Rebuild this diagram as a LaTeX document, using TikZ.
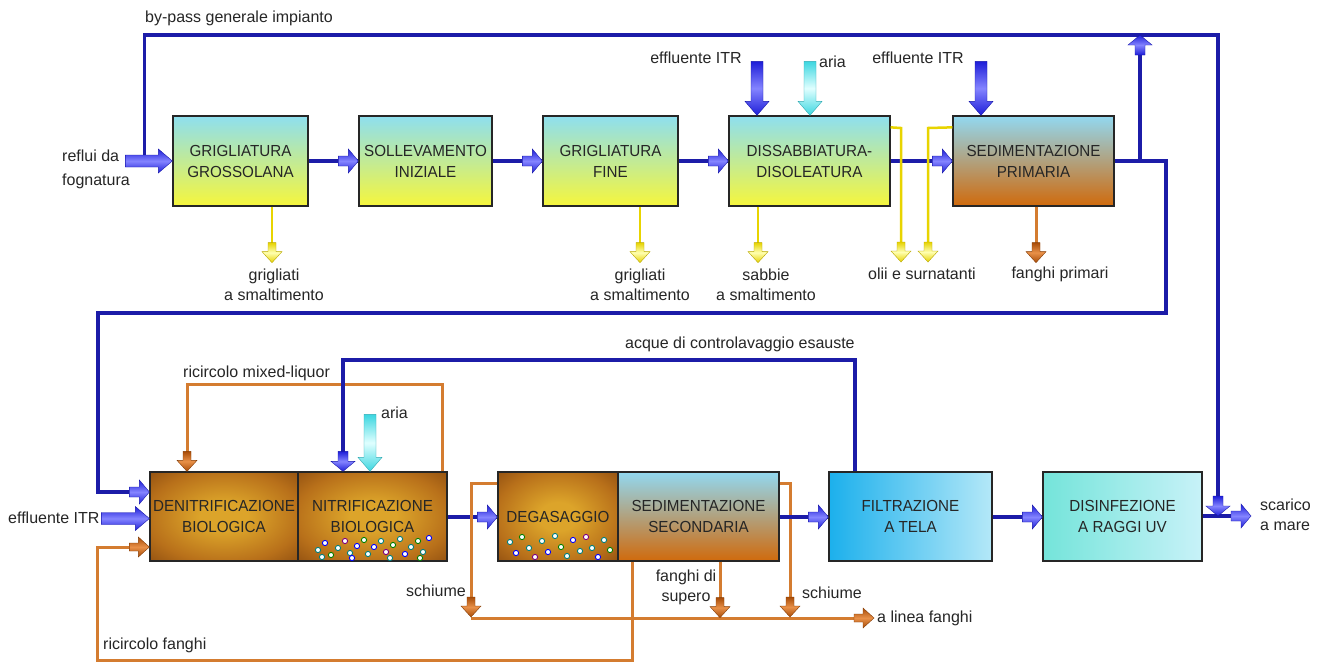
\documentclass[tikz,border=0pt]{standalone}
\usepackage{fontspec}
\setmainfont{Liberation Sans}
\newfontfamily\boxfont{Liberation Sans}[FakeStretch=0.95]
\usetikzlibrary{calc}
\definecolor{fblue}{HTML}{1C1CA8}
\definecolor{al}{HTML}{8484FF}
\definecolor{ad}{HTML}{1E1ED8}
\definecolor{cl}{HTML}{E0FFFF}
\definecolor{cd}{HTML}{3CD6E0}
\definecolor{yl}{HTML}{FFFFB0}
\definecolor{yd}{HTML}{E6D200}
\definecolor{ylin}{HTML}{E8D400}
\definecolor{brl}{HTML}{E89048}
\definecolor{brd}{HTML}{A84C08}
\definecolor{olin}{HTML}{D47C30}
\definecolor{tcy}{HTML}{8EDFEF}
\definecolor{tye}{HTML}{F6F63C}
\definecolor{sbl}{HTML}{92D8F0}
\definecolor{smi}{HTML}{B89C7C}
\definecolor{sor}{HTML}{D06A0C}
\definecolor{gin}{HTML}{DCA42A}
\definecolor{gmid}{HTML}{B8701A}
\definecolor{gout}{HTML}{7E400C}
\definecolor{fla}{HTML}{1CB0EC}
\definecolor{flb}{HTML}{B4E8F8}
\definecolor{dia}{HTML}{74E4DA}
\definecolor{dib}{HTML}{C8F2F8}
\pgfdeclareradialshading{bioshade}{\pgfpoint{0bp}{0bp}}{color(0bp)=(gin); color(8bp)=(gin); color(26bp)=(gmid); color(42bp)=(gout); color(50bp)=(gout)}
\tikzset{
  pics/fat/.style n args={3}{code={
    \shade[top color=#3, bottom color=#3, middle color=#2, draw=#3!80!black, line width=.4pt]
    (-#1,-6) -- (-14,-6) -- (-14,-12) -- (0,0) -- (-14,12) -- (-14,6) -- (-#1,6) -- cycle;}},
  pics/fa/.style 2 args={code={
    \shade[top color=#2, bottom color=#2, middle color=#1, draw=#2!80!black, line width=.4pt]
    (-20,-5) -- (-10,-5) -- (-10,-12) -- (0,0) -- (-10,12) -- (-10,5) -- (-20,5) -- cycle;}},
  pics/fl/.style 2 args={code={
    \shade[top color=#2, bottom color=#2, middle color=#1, draw=#2!80!black, line width=.4pt]
    (-20,-4) -- (-11,-4) -- (-11,-10) -- (0,0) -- (-11,10) -- (-11,4) -- (-20,4) -- cycle;}},
  box/.style={draw=black!85, line width=1.3pt, inner sep=0pt, align=center, text=black!85,
    font=\boxfont\fontsize{16}{21}\selectfont},
  topbox/.style={box, top color=tcy, bottom color=tye},
  sedbox/.style={box, top color=sbl, middle color=smi, bottom color=sor},
  biobox/.style={box, shading=bioshade},
  lab/.style={inner sep=0pt, text=black!85, font=\fontsize{16}{20}\selectfont},
  bline/.style={draw=fblue, line width=3.2pt},
  yline/.style={draw=ylin, line width=2.5pt},
  oline/.style={draw=olin, line width=3pt},
  bub/.style={fill=white, line width=0.9pt},
}
\begin{document}
\begin{tikzpicture}[x=1pt,y=-1pt]
\useasboundingbox[fill=white] (0,0) rectangle (1323,662);

% ---------- boxes, top row ----------
\node[topbox, minimum width=135pt, minimum height=90pt] (B1) at (240.5,161) {GRIGLIATURA\\GROSSOLANA};
\node[topbox, minimum width=133pt, minimum height=90pt] (B2) at (425.5,161) {SOLLEVAMENTO\\INIZIALE};
\node[topbox, minimum width=135pt, minimum height=90pt] (B3) at (610.5,161) {GRIGLIATURA\\FINE};
\node[topbox, minimum width=161pt, minimum height=90pt] (B4) at (809.5,161) {DISSABBIATURA-\\DISOLEATURA};
\node[sedbox, minimum width=161pt, minimum height=90pt] (B5) at (1033.5,161) {SEDIMENTAZIONE\\PRIMARIA};

% ---------- boxes, bottom row ----------
\node[biobox, minimum width=148pt, minimum height=89pt] (DENI) at (224,516.5) {DENITRIFICAZIONE\\BIOLOGICA};
\node[biobox, minimum width=149pt, minimum height=89pt] (NITRI) at (372.5,516.5) {NITRIFICAZIONE\\BIOLOGICA};
\node[biobox, minimum width=120pt, minimum height=89pt] (DEGA) at (558,516.5) {DEGASAGGIO};
\node[sedbox, minimum width=161pt, minimum height=89pt] (SEDI) at (698.5,516.5) {SEDIMENTAZIONE\\SECONDARIA};
\node[box, left color=fla, right color=flb, minimum width=163pt, minimum height=89pt] (FILT) at (910.5,516.5) {FILTRAZIONE\\A TELA};
\node[box, left color=dia, right color=dib, minimum width=159pt, minimum height=89pt] (DISIN) at (1122.5,516.5) {DISINFEZIONE\\A RAGGI UV};

% bubbles
\foreach \x/\y/\c in {318/550/teal,325/543/blue,331/555/green!50!black,338/548/teal,345/541/violet,350/553/teal,357/546/blue,364/540/green!50!black,368/554/teal,374/547/blue,381/541/teal,386/552/violet,393/545/green!50!black,400/539/teal,405/554/blue,411/547/teal,418/541/green!50!black,423/552/teal,429/538/blue,322/557/teal,352/558/blue,390/558/teal,420/558/green!50!black,
510/542/teal,516/553/blue,522/537/green!50!black,529/548/teal,535/557/violet,542/541/teal,548/552/blue,555/536/teal,561/547/green!50!black,567/556/teal,573/540/blue,580/551/teal,586/537/violet,592/548/teal,598/557/blue,604/540/teal,610/550/green!50!black}
  \draw[bub, draw=\c] (\x,\y) circle[radius=2.6pt];

% ---------- labels ----------
\node[lab, anchor=west] (tbypass) at (145,18) {by-pass generale impianto};
\node[lab, anchor=west, align=left, font=\fontsize{16}{24}\selectfont] (treflui) at (62,169) {reflui da\\fognatura};
\node[lab, align=center] (tgr1) at (274,285) {grigliati\\a smaltimento};
\node[lab, align=center] (tgr2) at (640,285) {grigliati\\a smaltimento};
\node[lab, align=center] (tsab) at (766,285) {sabbie\\a smaltimento};
\node[lab] (tolii) at (922,274) {olii e surnatanti};
\node[lab] (tfprim) at (1060,274) {fanghi primari};
\node[lab] (titr1) at (696,58) {effluente ITR};
\node[lab, anchor=west] (taria1) at (819,62) {aria};
\node[lab] (titr2) at (918,58) {effluente ITR};
\node[lab, anchor=west] (tacque) at (625,344) {acque di controlavaggio esauste};
\node[lab, anchor=west] (tmixed) at (183,373) {ricircolo mixed-liquor};
\node[lab, anchor=west] (taria2) at (381,413) {aria};
\node[lab, anchor=west] (titr3) at (8,518) {effluente ITR};
\node[lab, anchor=west] (tricf) at (103,645) {ricircolo fanghi};
\node[lab, anchor=west] (tsch1) at (406,591) {schiume};
\node[lab, align=center] (tsup) at (686,587) {fanghi di\\supero};
\node[lab, anchor=west] (tsch2) at (802,593) {schiume};
\node[lab, anchor=west] (tlinea) at (877,618) {a linea fanghi};
\node[lab, anchor=west, align=left] (tscar) at (1260,515) {scarico\\a mare};

% ---------- named points ----------
\coordinate (bpS) at ($(B1.west)+(-28,0)$);
\coordinate (bpTR) at (1218,35);
\coordinate (outJ) at (1218,516);
\coordinate (retR) at (1166,161);
\coordinate (retL) at (98,313);
\coordinate (deniIn1) at ($(DENI.west)+(0,-24.5)$);
\coordinate (upB) at (1140,161);
\coordinate (upT) at (1140,35);

% ---------- blue main flow, top ----------
\draw[bline] (bpS) |- (bpTR) -- ($(outJ)+(0,-12)$);
\draw[bline] (B1.east) -- (B2.west);
\draw[bline] (B2.east) -- (B3.west);
\draw[bline] (B3.east) -- (B4.west);
\draw[bline] (B4.east) -- (B5.west);
\draw[bline] (B5.east) -- (retR) |- (retL) |- ($(deniIn1)+(-10,0)$);
\draw[bline] (upB) -- ($(upT)+(0,10)$);

% ---------- yellow / brown outputs, top ----------
\draw[yline] ($(B1.south)+(31.5,0)$) -- ($(B1.south)+(31.5,46)$);
\draw[yline] ($(B3.south)+(29.5,0)$) -- ($(B3.south)+(29.5,46)$);
\draw[yline] ($(B4.south)+(-51.5,0)$) -- ($(B4.south)+(-51.5,46)$);
\draw[yline] ($(B4.north east)+(0,12)$) -- (901,128) -- (901,252);
\draw[yline] ($(B5.north west)+(0,12)$) -- (928,128) -- (928,252);
\draw[oline] ($(B5.south)+(2.5,0)$) -- ($(B5.south)+(2.5,46)$);

% ---------- bottom connectors ----------
\draw[oline] ($(SEDI.south)+(-66.5,0)$) -- (632,660) -| (97,547) -- ($(DENI.west)+(-10,30.5)$);
\draw[oline] ($(NITRI.north)+(69.5,0)$) -- (442,384) -| ($(DENI.north)+(-37,-10)$);
\draw[bline] ($(FILT.north)+(-55.5,0)$) |- (343,360) -- ($(NITRI.north)+(-29.5,-10)$);
\draw[bline] (NITRI.east |- 0,517) -- (DEGA.west |- 0,517);
\draw[oline] ($(DEGA.north west)+(0,12)$) -| (471,607);
\draw[oline] (471,618) -- (862,618);
\draw[oline] ($(SEDI.south)+(21.5,0)$) -- ($(SEDI.south)+(21.5,46)$);
\draw[oline] ($(SEDI.north east)+(0,12)$) -| (790,607);
\draw[bline] (SEDI.east |- 0,517) -- (FILT.west |- 0,517);
\draw[bline] (FILT.east |- 0,517) -- (DISIN.west |- 0,517);
\draw[bline] (DISIN.east |- 0,516) -- (1238,516);

% ---------- arrow heads ----------
\pic at (B1.west) {fat={47}{al}{ad}};
\pic at (B2.west) {fa={al}{ad}};
\pic at (B3.west) {fa={al}{ad}};
\pic at (B4.west) {fa={al}{ad}};
\pic at (B5.west) {fa={al}{ad}};
\pic[rotate=90] at (upT) {fa={al}{ad}};
\pic[rotate=-90] at (outJ) {fa={al}{ad}};
\pic at (1251,516) {fa={al}{ad}};
\pic[rotate=-90] at ($(B4.north)+(-52.5,0)$) {fat={54}{al}{ad}};
\pic[rotate=-90] at ($(B4.north)+(0.5,0)$) {fat={54}{cl}{cd}};
\pic[rotate=-90] at ($(B5.north)+(-52.5,0)$) {fat={54}{al}{ad}};
\pic[rotate=-90] at ($(B1.south)+(31.5,56)$) {fl={yl}{yd}};
\pic[rotate=-90] at ($(B3.south)+(29.5,56)$) {fl={yl}{yd}};
\pic[rotate=-90] at ($(B4.south)+(-51.5,56)$) {fl={yl}{yd}};
\pic[rotate=-90] at (901,262) {fl={yl}{yd}};
\pic[rotate=-90] at (928,262) {fl={yl}{yd}};
\pic[rotate=-90] at ($(B5.south)+(2.5,56)$) {fl={brl}{brd}};

\pic at (deniIn1) {fa={al}{ad}};
\pic at ($(DENI.west)+(0,2)$) {fat={48}{al}{ad}};
\pic at ($(DENI.west)+(0,30.5)$) {fl={brl}{brd}};
\pic[rotate=-90] at ($(DENI.north)+(-37,0)$) {fl={brl}{brd}};
\pic[rotate=-90] at ($(NITRI.north)+(-29.5,0)$) {fa={al}{ad}};
\pic[rotate=-90] at ($(NITRI.north)+(-2.5,0)$) {fat={57}{cl}{cd}};
\pic at (DEGA.west |- 0,517) {fa={al}{ad}};
\pic at (FILT.west |- 0,517) {fa={al}{ad}};
\pic at (DISIN.west |- 0,517) {fa={al}{ad}};
\pic[rotate=-90] at (471,617) {fl={brl}{brd}};
\pic[rotate=-90] at ($(SEDI.south)+(21.5,56)$) {fl={brl}{brd}};
\pic[rotate=-90] at (790,617) {fl={brl}{brd}};
\pic at (874,618) {fl={brl}{brd}};
\end{tikzpicture}
\end{document}
